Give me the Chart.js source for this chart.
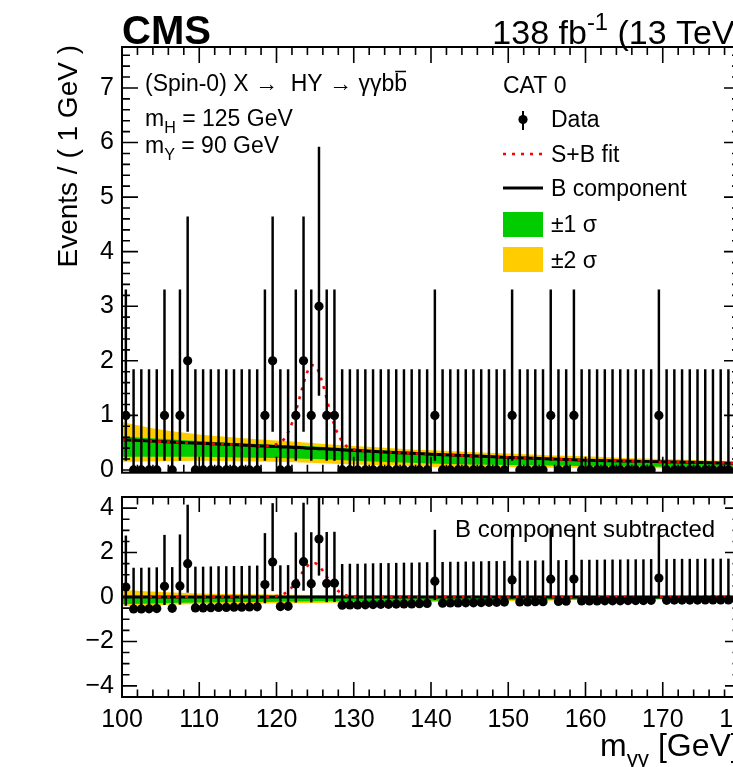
<!DOCTYPE html>
<html>
<head>
<meta charset="utf-8">
<script src="https://cdn.jsdelivr.net/npm/chart.js@4.4.1/dist/chart.umd.min.js"></script>
<style>
  html, body { margin: 0; padding: 0; background: #fff; overflow: hidden; }
  #wrap { position: relative; width: 733px; height: 767px; overflow: hidden; background: #fff; }
  #top { position: absolute; left: 0; top: 0; }
  #bottom { position: absolute; left: 0; top: 480px; }
</style>
</head>
<body>
<div id="wrap">
  <canvas id="top" width="780" height="480"></canvas>
  <canvas id="bottom" width="780" height="287"></canvas>
</div>
<script>
// 1 GeV bins from 100 to 180 GeV
const binLow = 100;
const binWidth = 1;
const counts = [
  1, 0, 0, 0, 0, 1, 0, 1, 2, 0,
  0, 0, 0, 0, 0, 0, 0, 0, 1, 2,
  0, 0, 1, 2, 1, 3, 1, 1, 0, 0,
  0, 0, 0, 0, 0, 0, 0, 0, 0, 0,
  1, 0, 0, 0, 0, 0, 0, 0, 0, 0,
  1, 0, 0, 0, 0, 1, 0, 0, 1, 0,
  0, 0, 0, 0, 0, 0, 0, 0, 0, 1,
  0, 0, 0, 0, 0, 0, 0, 0, 0, 0
];
// background component at each bin centre (used for the subtracted panel)
const bkgAtBin = [
  0.55, 0.54, 0.54, 0.53, 0.52, 0.52, 0.51, 0.50, 0.50, 0.49,
  0.49, 0.48, 0.47, 0.47, 0.46, 0.46, 0.45, 0.44, 0.44, 0.43,
  0.43, 0.42, 0.41, 0.41, 0.40, 0.39, 0.39, 0.38, 0.37, 0.36,
  0.36, 0.35, 0.34, 0.33, 0.33, 0.32, 0.31, 0.31, 0.30, 0.29,
  0.29, 0.28, 0.27, 0.27, 0.26, 0.26, 0.25, 0.24, 0.24, 0.23,
  0.23, 0.22, 0.22, 0.21, 0.21, 0.20, 0.20, 0.19, 0.19, 0.18,
  0.18, 0.18, 0.17, 0.17, 0.17, 0.16, 0.16, 0.16, 0.15, 0.15,
  0.15, 0.14, 0.14, 0.14, 0.14, 0.13, 0.13, 0.13, 0.13, 0.12
];
// Garwood 68% intervals, indexed by the observed count
const poissonDown = [0, 0.827, 1.292, 1.633];
const poissonUp = [1.841, 2.300, 2.638, 2.918];

// fitted curves
const fitMass = [100, 105, 110, 115,
  118, 118.5, 119, 119.5, 120, 120.5, 121, 121.5, 122, 122.5, 123, 123.5, 124,
  124.5, 125, 125.5, 126, 126.5, 127, 127.5, 128, 128.5, 129, 129.5, 130, 130.5, 131,
  135, 140, 145, 150, 155, 160, 165, 170, 175, 180];
const bkgFit = [0.555, 0.52, 0.49, 0.46,
  0.44, 0.44, 0.435, 0.43, 0.43, 0.425, 0.42, 0.42, 0.415, 0.41, 0.41, 0.405, 0.40,
  0.40, 0.395, 0.39, 0.39, 0.385, 0.38, 0.38, 0.375, 0.37, 0.365, 0.36, 0.36, 0.355, 0.35,
  0.32, 0.29, 0.26, 0.23, 0.205, 0.18, 0.165, 0.15, 0.135, 0.12];
const sigFit = [0, 0, 0, 0,
  0, 0.002, 0.007, 0.017, 0.04, 0.08, 0.15, 0.27, 0.44, 0.66, 0.92, 1.18, 1.40,
  1.52, 1.52, 1.40, 1.18, 0.92, 0.66, 0.44, 0.27, 0.15, 0.08, 0.04, 0.017, 0.007, 0.002,
  0, 0, 0, 0, 0, 0, 0, 0, 0, 0];

// uncertainty bands on the background
const bandMass = [100, 105, 110, 115, 120, 125, 130, 135, 140, 145, 150, 155, 160, 165, 170, 175, 180];
const band2Up = [0.88, 0.74, 0.65, 0.59, 0.54, 0.49, 0.44, 0.40, 0.36, 0.33, 0.30, 0.27, 0.25, 0.22, 0.20, 0.18, 0.16];
const band1Up = [0.62, 0.57, 0.53, 0.49, 0.46, 0.43, 0.39, 0.35, 0.31, 0.28, 0.25, 0.22, 0.20, 0.18, 0.16, 0.145, 0.13];
const band1Dn = [0.24, 0.24, 0.24, 0.23, 0.22, 0.20, 0.17, 0.14, 0.12, 0.10, 0.09, 0.08, 0.07, 0.07, 0.06, 0.06, 0.06];
const band2Dn = [0.15, 0.16, 0.17, 0.16, 0.15, 0.13, 0.10, 0.08, 0.06, 0.05, 0.05, 0.04, 0.04, 0.04, 0.03, 0.03, 0.03];

const GREEN = '#00cc00';
const YELLOW = '#ffcc00';
const FONT = '"Liberation Sans", Arial, Helvetica, sans-serif';

const binCenter = counts.map((_, i) => binLow + (i + 0.5) * binWidth);
const bkgAtKnot = m => bkgFit[fitMass.indexOf(m)];

function curve(xs, ys) {
  return xs.map((x, i) => ({ x: x, y: ys[i] }));
}

function makeDatasets(yVals, base) {
  // base: true for the background-subtracted panel
  const shift = m => (base ? bkgAtKnot(m) : 0);
  return [
    { type: 'scatter', data: yVals.map((y, i) => ({ x: binCenter[i], y: y })),
      backgroundColor: '#000', borderWidth: 0, pointRadius: 4.6, order: 0 },
    { type: 'bar', data: yVals.map((y, i) => ({ x: binCenter[i], y: [y - poissonDown[counts[i]], y + poissonUp[counts[i]]] })),
      backgroundColor: '#000', borderWidth: 0, barThickness: 1.8, grouped: false, order: 1 },
    { type: 'line', data: curve(fitMass, fitMass.map((m, i) => (base ? 0 : bkgFit[i]) + sigFit[i])),
      borderColor: '#ff0000', borderWidth: 2.6, borderDash: [3, 6], pointRadius: 0,
      cubicInterpolationMode: 'monotone', fill: false, order: 2 },
    { type: 'line', data: curve(fitMass, fitMass.map((m, i) => base ? 0 : bkgFit[i])),
      borderColor: '#000', borderWidth: 3, pointRadius: 0,
      cubicInterpolationMode: 'monotone', fill: false, order: 3 },
    { type: 'line', data: curve(bandMass, band1Up.map((v, i) => v - shift(bandMass[i]))),
      borderWidth: 0, pointRadius: 0, backgroundColor: GREEN, fill: '+1',
      cubicInterpolationMode: 'monotone', order: 4 },
    { type: 'line', data: curve(bandMass, band1Dn.map((v, i) => v - shift(bandMass[i]))),
      borderWidth: 0, pointRadius: 0, fill: false, cubicInterpolationMode: 'monotone', order: 4 },
    { type: 'line', data: curve(bandMass, band2Up.map((v, i) => v - shift(bandMass[i]))),
      borderWidth: 0, pointRadius: 0, backgroundColor: YELLOW, fill: '+1',
      cubicInterpolationMode: 'monotone', order: 5 },
    { type: 'line', data: curve(bandMass, band2Dn.map((v, i) => v - shift(bandMass[i]))),
      borderWidth: 0, pointRadius: 0, fill: false, cubicInterpolationMode: 'monotone', order: 5 }
  ];
}

// frame with inward ticks on all four sides
function eachTick(scale, minor, major, fn) {
  const i0 = Math.ceil(scale.min / minor - 1e-9);
  const i1 = Math.floor(scale.max / minor + 1e-9);
  for (let i = i0; i <= i1; i++) {
    const v = i * minor;
    const isMajor = Math.abs(v / major - Math.round(v / major)) < 1e-6;
    fn(scale.getPixelForValue(v), isMajor);
  }
}

const rootFrame = {
  id: 'rootFrame',
  afterDatasetsDraw(chart, args, opts) {
    const ctx = chart.ctx;
    const a = chart.chartArea;
    ctx.save();
    ctx.strokeStyle = '#000';
    ctx.lineWidth = 1.6;
    ctx.beginPath();
    eachTick(chart.scales.x, opts.xMinor, opts.xMajor, (px, major) => {
      const len = major ? opts.len : opts.len / 2;
      ctx.moveTo(px, a.bottom); ctx.lineTo(px, a.bottom - len);
      ctx.moveTo(px, a.top); ctx.lineTo(px, a.top + len);
    });
    eachTick(chart.scales.y, opts.yMinor, opts.yMajor, (py, major) => {
      const len = major ? opts.len : opts.len / 2;
      ctx.moveTo(a.left, py); ctx.lineTo(a.left + len, py);
      ctx.moveTo(a.right, py); ctx.lineTo(a.right - len, py);
    });
    ctx.stroke();
    ctx.lineWidth = 2;
    ctx.strokeRect(a.left, a.top, a.right - a.left, a.bottom - a.top);
    ctx.restore();
  }
};

function drawRich(ctx, parts, x, y, size, align) {
  const fontOf = p => (p.bold ? 'bold ' : '') + ((p.sub || p.sup) ? size * 0.7 : size) + 'px ' + FONT;
  let w = 0;
  parts.forEach(p => { ctx.font = fontOf(p); w += ctx.measureText(p.t).width; });
  let cx = align === 'right' ? x - w : x;
  ctx.textAlign = 'left';
  ctx.textBaseline = 'alphabetic';
  parts.forEach(p => {
    ctx.font = fontOf(p);
    const dy = p.sub ? size * 0.3 : (p.sup ? -size * 0.42 : 0);
    ctx.fillText(p.t, cx, y + dy);
    cx += ctx.measureText(p.t).width;
  });
  return w;
}

const topText = {
  id: 'topText',
  afterDraw(chart) {
    const ctx = chart.ctx;
    ctx.save();
    ctx.fillStyle = '#000';
    drawRich(ctx, [{ t: 'CMS', bold: true }], 122, 44, 40);
    drawRich(ctx, [{ t: '138 fb' }, { t: '-1', sup: true }, { t: ' (13 TeV)' }], 746, 44, 34, 'right');

    // y axis title, aligned to the top of the axis
    ctx.save();
    ctx.translate(77, 45);
    ctx.rotate(-Math.PI / 2);
    ctx.font = '28px ' + FONT;
    ctx.textAlign = 'right';
    ctx.textBaseline = 'alphabetic';
    ctx.fillText('Events / ( 1 GeV )', 0, 0);
    ctx.restore();

    // process and mass labels
    const proc = '(Spin-0) X \u2192  HY \u2192 \u03b3\u03b3bb';
    ctx.font = '23px ' + FONT;
    ctx.textAlign = 'left';
    ctx.fillText(proc, 145, 91);
    const wHead = ctx.measureText(proc.slice(0, -1)).width;
    const wB = ctx.measureText('b').width;
    ctx.lineWidth = 1.5;
    ctx.beginPath();
    ctx.moveTo(145 + wHead + 1, 71.5);
    ctx.lineTo(145 + wHead + wB - 1, 71.5);
    ctx.stroke();
    drawRich(ctx, [{ t: 'm' }, { t: 'H', sub: true }, { t: ' = 125 GeV' }], 145, 126, 23);
    drawRich(ctx, [{ t: 'm' }, { t: 'Y', sub: true }, { t: ' = 90 GeV' }], 145, 153, 23);

    // legend
    const lx = 503, tx = 551;
    drawRich(ctx, [{ t: 'CAT 0' }], lx, 93, 23);
    ctx.lineWidth = 2;
    ctx.beginPath();
    ctx.moveTo(523, 111); ctx.lineTo(523, 130);
    ctx.stroke();
    ctx.beginPath();
    ctx.arc(523, 119.5, 4.6, 0, Math.PI * 2);
    ctx.fill();
    drawRich(ctx, [{ t: 'Data' }], tx, 127, 23);
    ctx.save();
    ctx.strokeStyle = '#ff0000';
    ctx.lineWidth = 2.6;
    ctx.setLineDash([3, 6]);
    ctx.beginPath();
    ctx.moveTo(lx, 154); ctx.lineTo(lx + 40, 154);
    ctx.stroke();
    ctx.restore();
    drawRich(ctx, [{ t: 'S+B fit' }], tx, 162, 23);
    ctx.lineWidth = 3;
    ctx.beginPath();
    ctx.moveTo(lx, 188); ctx.lineTo(lx + 40, 188);
    ctx.stroke();
    drawRich(ctx, [{ t: 'B component' }], tx, 196, 23);
    ctx.fillStyle = GREEN;
    ctx.fillRect(lx, 212, 40, 25);
    ctx.fillStyle = YELLOW;
    ctx.fillRect(lx, 247, 40, 25);
    ctx.fillStyle = '#000';
    drawRich(ctx, [{ t: '\u00b11 \u03c3' }], tx, 232, 23);
    drawRich(ctx, [{ t: '\u00b12 \u03c3' }], tx, 268, 23);
    ctx.restore();
  }
};

const bottomText = {
  id: 'bottomText',
  afterDraw(chart) {
    const ctx = chart.ctx;
    ctx.save();
    ctx.fillStyle = '#000';
    drawRich(ctx, [{ t: 'B component subtracted' }], 455, 57, 24);
    drawRich(ctx, [{ t: 'm' }, { t: '\u03b3\u03b3', sub: true }, { t: ' [GeV]' }], 600, 276, 32);
    ctx.restore();
  }
};

const tickFont = { family: FONT, size: 25 };
const signed = v => (v < 0 ? '\u2212' : '') + Math.abs(Math.round(v));
// keep tick labels from pulling the plot frame inwards
const noLabelPadding = s => { s.paddingTop = 0; s.paddingBottom = 0; s.paddingLeft = 0; s.paddingRight = 0; };

function makeChart(id, datasets, cfg) {
  return new Chart(document.getElementById(id), {
    type: 'bar',
    data: { datasets: datasets },
    plugins: [rootFrame, cfg.text],
    options: {
      responsive: false,
      animation: false,
      events: [],
      layout: { padding: cfg.padding, autoPadding: false },
      plugins: {
        legend: { display: false },
        tooltip: { enabled: false },
        rootFrame: cfg.frame
      },
      scales: {
        x: {
          type: 'linear', min: 100, max: 180, offset: false,
          display: cfg.xHeight > 0,
          grid: { display: false, drawTicks: false, offset: false },
          border: { display: false },
          ticks: { stepSize: 10, autoSkip: false, maxRotation: 0, padding: 8, color: '#000', font: tickFont },
          afterFit: s => { s.height = cfg.xHeight; noLabelPadding(s); }
        },
        y: {
          min: cfg.yMin, max: cfg.yMax,
          grid: { display: false, drawTicks: false },
          border: { display: false },
          ticks: { autoSkip: false, padding: 8, color: '#000', font: tickFont, callback: v => signed(v) },
          // labelled values only: the multiples of yStep inside the range
          afterBuildTicks: s => {
            const ticks = [];
            for (let i = Math.ceil(cfg.yMin / cfg.yStep); i * cfg.yStep <= cfg.yMax; i++) {
              ticks.push({ value: i * cfg.yStep });
            }
            s.ticks = ticks;
          },
          afterFit: s => { s.width = 122; noLabelPadding(s); }
        }
      }
    }
  });
}

makeChart('top', makeDatasets(counts, false), {
  text: topText,
  padding: { top: 47, bottom: 7.3, left: 0, right: 40 },
  xHeight: 0,
  yMin: -0.05, yMax: 7.75, yStep: 1,
  frame: { xMinor: 2, xMajor: 10, yMinor: 0.2, yMajor: 1, len: 16 }
});

const residuals = counts.map((n, i) => n - bkgAtBin[i]);
makeChart('bottom', makeDatasets(residuals, true), {
  text: bottomText,
  padding: { top: 17, bottom: 0, left: 0, right: 40 },
  xHeight: 70,
  yMin: -4.5, yMax: 4.5, yStep: 2,
  frame: { xMinor: 2, xMajor: 10, yMinor: 0.5, yMajor: 2, len: 15 }
});
</script>
</body>
</html>
